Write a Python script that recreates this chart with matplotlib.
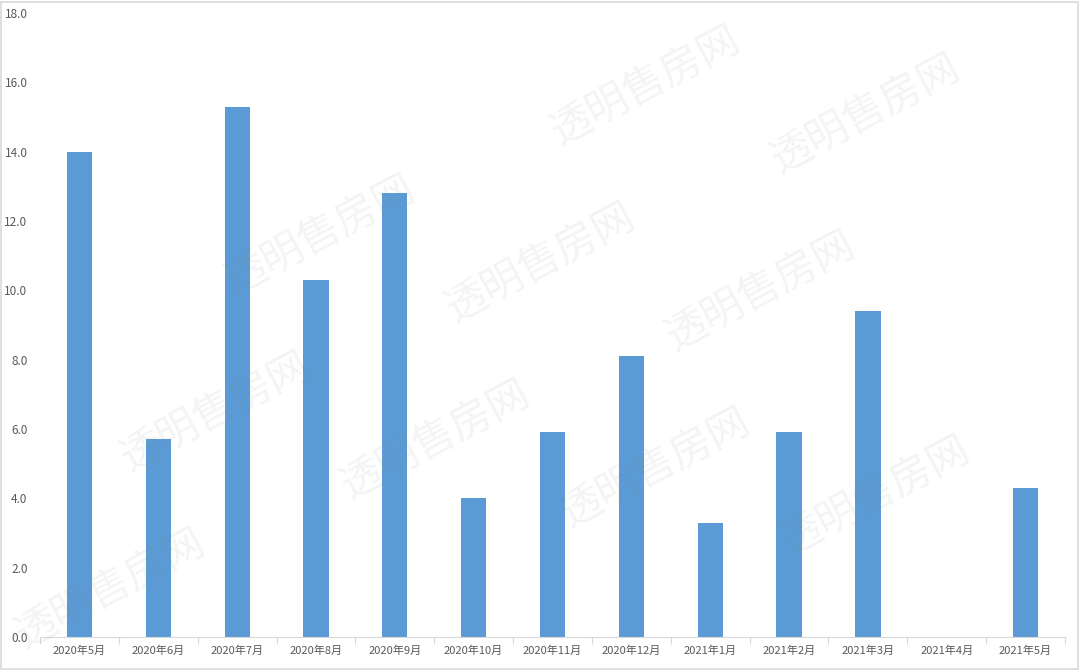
import matplotlib
matplotlib.use("Agg")
import matplotlib.pyplot as plt
import numpy as np
from matplotlib.patches import Rectangle

plt.rcParams['font.family'] = ['Noto Sans CJK SC', 'DejaVu Sans']

categories = ["2020年5月", "2020年6月", "2020年7月", "2020年8月", "2020年9月",
              "2020年10月", "2020年11月", "2020年12月", "2021年1月", "2021年2月",
              "2021年3月", "2021年4月", "2021年5月"]
values = [14.0, 5.7, 15.3, 10.3, 12.8, 4.0, 5.9, 8.1, 3.3, 5.9, 9.4, 0.0, 4.3]
yticks = [0, 2, 4, 6, 8, 10, 12, 14, 16, 18]
watermark = "透明售房网"

W, H = 1080, 670
fig = plt.figure(figsize=(W / 100, H / 100), dpi=100)
ax = fig.add_axes([40 / W, 1 - 637 / H, (1065 - 40) / W, (637 - 13) / H])

x = np.arange(len(categories))
ax.bar(x, values, width=0.32, color="#5B9BD5", zorder=2)

ax.set_xlim(-0.5, len(categories) - 0.5)
ax.set_ylim(0, 18)
ax.set_yticks(yticks)
ax.set_yticklabels([f"{v:.1f}" for v in yticks])
ax.set_xticks(x)
ax.set_xticklabels(categories)
ax.set_xticks(np.arange(-0.5, len(categories), 1.0), minor=True)

ax.tick_params(axis='y', length=0, pad=9, labelsize=8.5, labelcolor="#595959")
ax.tick_params(axis='x', which='major', length=0, pad=6, labelsize=8, labelcolor="#595959")
ax.tick_params(axis='x', which='minor', length=5, width=0.8, color="#d9d9d9")

for s in ['top', 'right', 'left']:
    ax.spines[s].set_visible(False)
ax.spines['bottom'].set_color("#d9d9d9")
ax.spines['bottom'].set_linewidth(0.8)

# watermark lattice (only fully visible copies)
v1 = np.array([220.0, 28.0])
v2 = np.array([115.0, 205.0])
origin = np.array([205.0, 30.0])
fig.canvas.draw()
renderer = fig.canvas.get_renderer()
for i in range(-4, 7):
    for j in range(-2, 5):
        c = origin + i * v1 + j * v2
        if -150 < c[0] < W + 150 and -100 < c[1] < H + 100:
            t = fig.text(c[0] / W, 1 - c[1] / H, watermark, fontsize=30,
                         color="#888888", alpha=0.09, rotation=28,
                         ha='center', va='center', zorder=5,
                         rotation_mode='anchor')
            bb = t.get_window_extent(renderer)
            if bb.x0 < 2 or bb.y0 < 2 or bb.x1 > W - 2 or bb.y1 > H - 2:
                t.remove()

fig.patches.append(Rectangle((1 / W, 1 / H), (W - 3) / W, (H - 3) / H,
                             transform=fig.transFigure, fill=False,
                             edgecolor="#d9d9d9", linewidth=1.2))

fig.savefig("out.png", dpi=100)
